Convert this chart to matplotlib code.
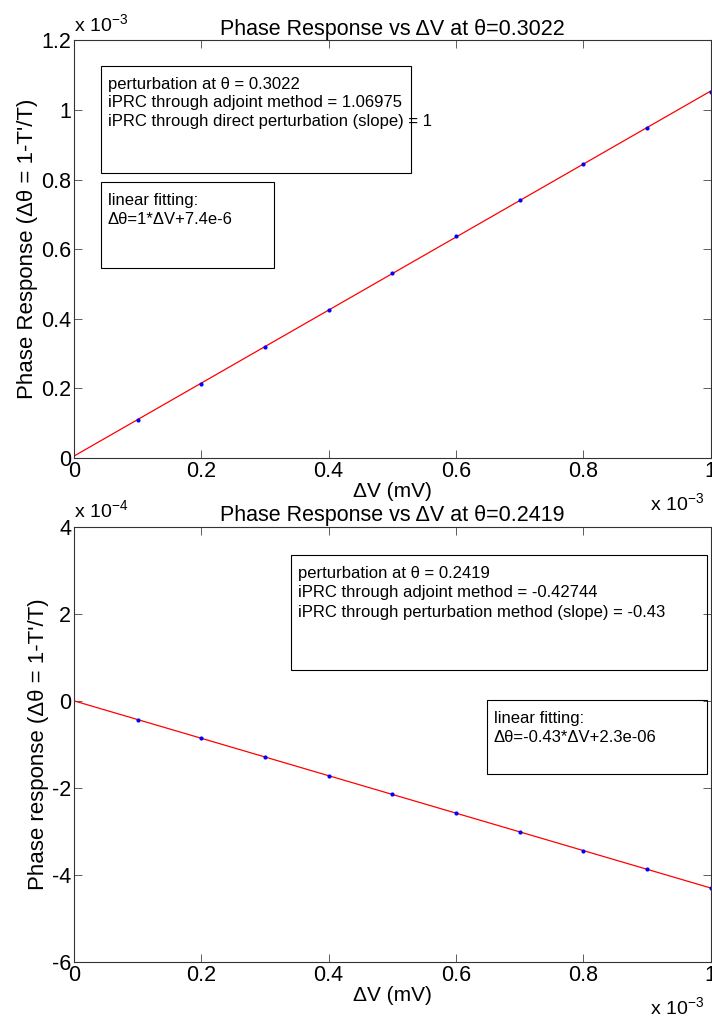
import numpy as np
import matplotlib as mpl
mpl.use("Agg")
import matplotlib.pyplot as plt
from matplotlib.patches import Rectangle
from matplotlib.ticker import FuncFormatter, MultipleLocator

mpl.rcParams.update({'font.family': ['Liberation Sans', 'DejaVu Sans'],
                     'axes.unicode_minus': False,
                     'mathtext.fontset': 'custom',
                     'mathtext.rm': 'Liberation Sans'})

# perturbation amplitudes (mV)
dv = np.array([0.1, 0.2, 0.3, 0.4, 0.5, 0.6, 0.7, 0.8, 0.9, 1.0]) * 1e-3
# phase responses
resp_top = np.array([0.108, 0.214, 0.320, 0.426, 0.532, 0.637, 0.742,
                     0.845, 0.948, 1.050]) * 1e-3
resp_bot = np.array([-0.43, -0.86, -1.29, -1.72, -2.15, -2.58, -3.01,
                     -3.44, -3.87, -4.30]) * 1e-4

titles = [u"Phase Response vs \u0394V at \u03b8=0.3022",
          u"Phase Response vs \u0394V at \u03b8=0.2419"]
ylabels = [u"Phase Response (\u0394\u03b8 = 1-T'/T)",
           u"Phase response (\u0394\u03b8 = 1-T'/T)"]
info_top = [u"perturbation at \u03b8 = 0.3022",
            "iPRC through adjoint method = 1.06975",
            "iPRC through direct perturbation (slope) = 1"]
fit_top = ["linear fitting:", u"\u0394\u03b8=1*\u0394V+7.4e-6"]
info_bot = [u"perturbation at \u03b8 = 0.2419",
            "iPRC through adjoint method = -0.42744",
            "iPRC through perturbation method (slope) = -0.43"]
fit_bot = ["linear fitting:", u"\u0394\u03b8=-0.43*\u0394V+2.3e-06"]


def fmt(scale):
    def f(v, pos):
        return "%g" % round(v * scale, 6)
    return FuncFormatter(f)


def textbox(ax, x0, x1, y0, y1, lines):
    ax.add_patch(Rectangle((x0, y0), x1 - x0, y1 - y0, transform=ax.transAxes,
                           fill=False, edgecolor='k', linewidth=0.8,
                           clip_on=False, zorder=5))
    for i, s in enumerate(lines):
        ax.text(x0 + 0.011, y1 - 0.025 - i * 0.045, s, transform=ax.transAxes,
                fontsize=12, va='top', ha='left', zorder=6)


fig = plt.figure(figsize=(7.12, 10.19), dpi=100)
ax1 = fig.add_axes([0.104, 0.5505, 0.894, 0.410])
ax2 = fig.add_axes([0.104, 0.056, 0.894, 0.427])

xline = np.array([0.0, 1e-3])
for ax, y, ysc, ylim, ystep, title, ylab in [
        (ax1, resp_top, 1e3, (0, 1.2e-3), 0.2e-3, titles[0], ylabels[0]),
        (ax2, resp_bot, 1e4, (-6e-4, 4e-4), 2e-4, titles[1], ylabels[1])]:
    p = np.poly1d(np.polyfit(dv, y, 1))
    ax.plot(xline, p(xline), '-', color='red', linewidth=0.9)
    ax.plot(dv, y, '.', color='blue', markersize=4)
    ax.set_xlim(0, 1e-3)
    ax.set_ylim(*ylim)
    ax.xaxis.set_major_locator(MultipleLocator(0.2e-3))
    ax.yaxis.set_major_locator(MultipleLocator(ystep))
    ax.xaxis.set_major_formatter(fmt(1e3))
    ax.yaxis.set_major_formatter(fmt(ysc))
    ax.tick_params(direction='in', top=True, right=True, labelsize=15.5,
                   length=6, width=0.6, pad=2, color='#444444')
    for sp in ax.spines.values():
        sp.set_linewidth(0.8)
        sp.set_color('#333333')
    ax.set_title(title, fontsize=15.5, pad=4)
    ax.set_xlabel(u"\u0394V (mV)", fontsize=15, labelpad=0)
    ax.set_ylabel(ylab, fontsize=16, labelpad=2)
    ax.annotate(r"x 10$^{-3}$", xy=(1, 0), xycoords='axes fraction',
                xytext=(-5, -33), textcoords='offset points',
                fontsize=14, ha='right', va='center')

ax1.text(0.0, 1.01, r"x 10$^{-3}$", transform=ax1.transAxes,
         fontsize=14, ha='left', va='bottom')
ax2.text(0.0, 1.01, r"x 10$^{-4}$", transform=ax2.transAxes,
         fontsize=14, ha='left', va='bottom')

textbox(ax1, 0.042, 0.529, 0.682, 0.938, info_top)
textbox(ax1, 0.042, 0.314, 0.455, 0.660, fit_top)
textbox(ax2, 0.341, 0.994, 0.671, 0.936, info_bot)
textbox(ax2, 0.648, 0.994, 0.432, 0.602, fit_bot)

fig.savefig("out.png", dpi=100)
